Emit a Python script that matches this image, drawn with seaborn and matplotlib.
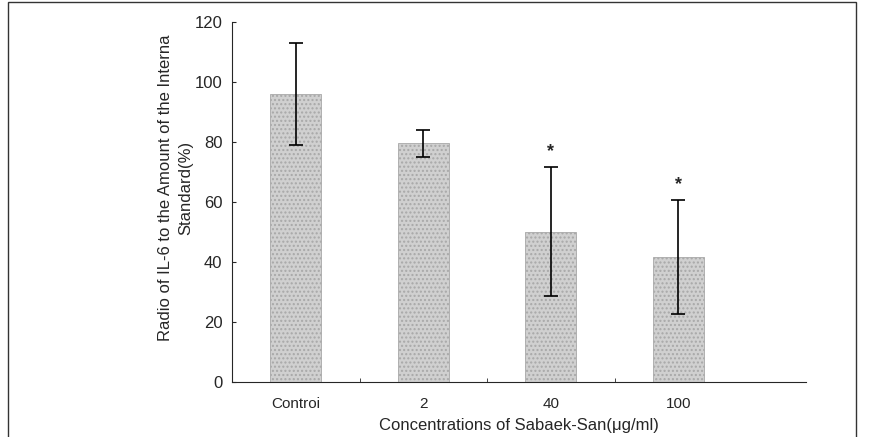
import matplotlib.pyplot as plt
import matplotlib.patches as mpatches
import pandas as pd
import seaborn as sns

categories = ["Controi", "2", "40", "100"]
means = [96, 79.5, 50, 41.5]
errors = [17, 4.5, 21.5, 19]
significant = [False, False, True, True]

df = pd.DataFrame({"conc": categories, "ratio": means})

sns.set_style("ticks")
plt.rcParams['font.family'] = ['Liberation Sans', 'DejaVu Sans']

fig = plt.figure(figsize=(8.94, 4.37), dpi=100)
ax = fig.add_axes([0.2595, 0.1259, 0.642, 0.8238])

sns.barplot(data=df, x="conc", y="ratio", color="#d0d0d0", width=0.4,
            edgecolor="#a8a8a8", linewidth=0.6, ax=ax, zorder=2)
for bar in ax.patches:
    bar.set_hatch("....")
ax.errorbar(range(len(categories)), means, yerr=errors, fmt="none",
            ecolor="black", elinewidth=1.2, capsize=5, capthick=1.2, zorder=3)
for i, sig in enumerate(significant):
    if sig:
        ax.text(i, means[i] + errors[i] + 2.5, "*", ha="center", va="bottom",
                fontsize=13, fontweight="bold")

ax.set_xlim(-0.5, 4.0)
ax.set_ylim(0, 120)
ax.set_yticks(range(0, 121, 20))
ax.set_xticks([0.5, 1.5, 2.5], minor=True)
ax.tick_params(axis="x", which="major", length=0, pad=11, labelsize=11)
ax.tick_params(axis="x", which="minor", length=3, direction="in")
ax.tick_params(axis="y", length=3, direction="in", labelsize=12, pad=7)
sns.despine(ax=ax)
ax.set_xlabel("Concentrations of Sabaek-San(\u03bcg/ml)", fontsize=12, labelpad=5)
ax.set_ylabel("Radio of IL-6 to the Amount of the Interna\nStandard(%)", fontsize=12,
              linespacing=1.45)
ax.yaxis.set_label_coords(-0.068, 0.54)

fig.patches.append(mpatches.Rectangle((0.009, -0.01), 0.948, 1.005, transform=fig.transFigure,
                                      fill=False, edgecolor="#333333", linewidth=1.0))

fig.savefig("out.png", dpi=100)
